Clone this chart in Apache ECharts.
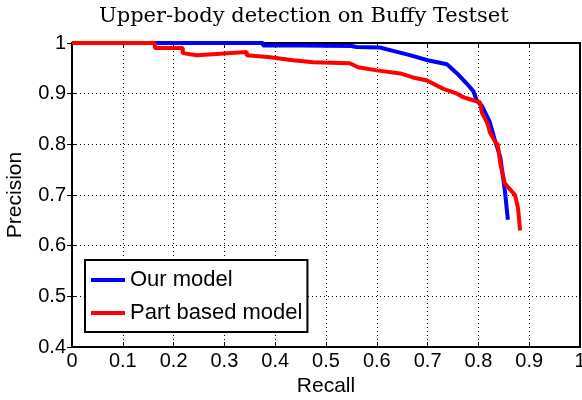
<!DOCTYPE html>
<html><head><meta charset="utf-8">
<script src="https://cdn.jsdelivr.net/npm/echarts@6/dist/echarts.min.js"></script>
<style>html,body{margin:0;padding:0;background:#fff}#c{width:582px;height:400px}</style>
</head><body><div id="c"></div>
<script>
const titleText = "Upper-body detection on Buffy Testset";
const xLabel = "Recall";
const yLabel = "Precision";
const seriesNames = ["Our model", "Part based model"];
const ourModel = [[0,1],[0.376,1],[0.376,0.995],[0.45,0.995],[0.55,0.994],[0.56,0.992],[0.606,0.991],[0.63,0.985],[0.665,0.976],[0.70,0.966],[0.738,0.958],[0.758,0.94],[0.777,0.92],[0.79,0.905],[0.797,0.886],[0.807,0.876],[0.822,0.845],[0.832,0.81],[0.843,0.775],[0.852,0.71],[0.858,0.651]];
const partModel = [[0,1],[0.163,1],[0.163,0.99],[0.218,0.99],[0.218,0.98],[0.246,0.976],[0.344,0.982],[0.344,0.976],[0.39,0.972],[0.435,0.966],[0.475,0.962],[0.547,0.96],[0.563,0.952],[0.60,0.946],[0.646,0.94],[0.671,0.932],[0.699,0.926],[0.73,0.91],[0.758,0.90],[0.77,0.893],[0.803,0.883],[0.807,0.862],[0.817,0.843],[0.823,0.823],[0.833,0.805],[0.838,0.80],[0.843,0.763],[0.852,0.723],[0.872,0.70],[0.878,0.674],[0.882,0.63]];
const colors = ["#0000ff", "#ff0000"];

const chart = echarts.init(document.getElementById('c'), null, {renderer:'canvas'});
const sans = "'Liberation Sans', Arial, sans-serif";
const fmt = v => (v === 0 || v === 1) ? String(v) : String(Math.round(v*10)/10);
const tick = {show:true, inside:true, length:5, lineStyle:{color:'#000', width:1}};
chart.setOption({
  animation:false,
  title:{text:titleText, left:94, top:1, textStyle:{fontFamily:"'DejaVu Serif', serif", fontSize:21, fontWeight:'normal', color:'#000'}},
  grid:{left:72, right:2, top:43, bottom:53, outerBoundsMode:'none', containLabel:false, show:true, borderColor:'#000', borderWidth:2, backgroundColor:'#fff'},
  legend:{orient:'vertical', left:85, top:260, padding:[9,5,8,6], itemGap:11, itemWidth:34, itemHeight:4, icon:'rect',
    borderColor:'#000', borderWidth:2, backgroundColor:'#fff',
    textStyle:{fontFamily:sans, fontSize:22, lineHeight:22, color:'#000'}, data:seriesNames},
  xAxis:[
    {type:'value', min:0, max:1, interval:0.1, name:xLabel, nameLocation:'middle', nameGap:26,
     nameTextStyle:{fontFamily:sans, fontSize:21, color:'#000'},
     axisLine:{show:true, lineStyle:{color:'#000', width:2}}, axisTick:tick,
     axisLabel:{fontFamily:sans, fontSize:20, color:'#000', margin:4, formatter:fmt},
     splitLine:{show:true, lineStyle:{color:'#000', type:[1,3], width:1}}},
    {type:'value', min:0, max:1, interval:0.1, position:'top', axisLine:{show:true, lineStyle:{color:'#000', width:2}}, axisTick:tick, axisLabel:{show:false}, splitLine:{show:false}}
  ],
  yAxis:[
    {type:'value', min:0.4, max:1, interval:0.1, name:yLabel, nameLocation:'middle', nameGap:46, nameRotate:90,
     nameTextStyle:{fontFamily:sans, fontSize:21, color:'#000'},
     axisLine:{show:true, lineStyle:{color:'#000', width:2}}, axisTick:tick,
     axisLabel:{fontFamily:sans, fontSize:20, color:'#000', margin:6, formatter:fmt},
     splitLine:{show:true, lineStyle:{color:'#000', type:[1,3], width:1}}},
    {type:'value', min:0.4, max:1, interval:0.1, position:'right', axisLine:{show:true, lineStyle:{color:'#000', width:2}}, axisTick:tick, axisLabel:{show:false}, splitLine:{show:false}}
  ],
  series:[
    {name:seriesNames[0], type:'line', data:ourModel, showSymbol:false, symbol:'none', lineStyle:{color:colors[0], width:4}, itemStyle:{color:colors[0]}, z:3},
    {name:seriesNames[1], type:'line', data:partModel, showSymbol:false, symbol:'none', lineStyle:{color:colors[1], width:4}, itemStyle:{color:colors[1]}, z:4}
  ]
});
</script></body></html>
